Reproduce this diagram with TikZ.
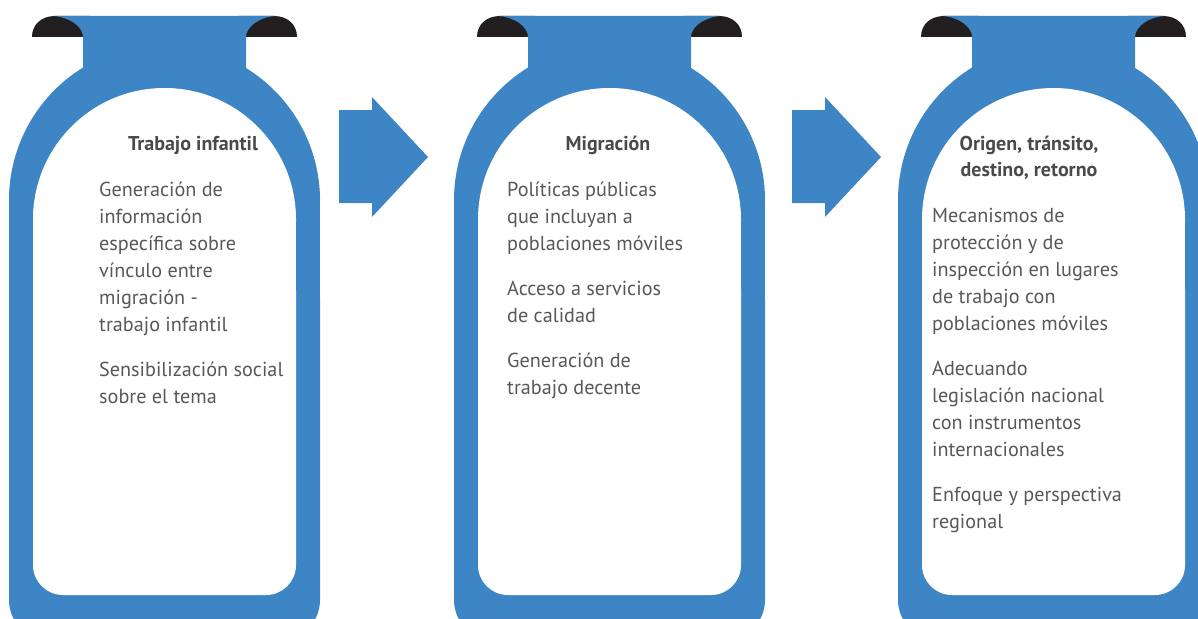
\documentclass[tikz,border=0pt]{standalone}
\usepackage{fontspec}
\setmainfont{PT Sans}
\definecolor{bottleblue}{HTML}{3E85C5}
\definecolor{capblack}{HTML}{231F20}
\definecolor{bodygray}{HTML}{585858}
\definecolor{headgray}{HTML}{4A4A4A}
\begin{document}
\begin{tikzpicture}[x=1pt, y=-1pt,
  bodytext/.style={anchor=north west, inner sep=0pt, align=left, text=bodygray,
    font=\fontsize{20.2}{27}\selectfont},
  headtext/.style={anchor=north, inner sep=0pt, align=center, text=headgray,
    font=\bfseries\fontsize{20}{26}\selectfont}]
  \useasboundingbox (0,0) rectangle (1198,618);
  \clip (0,0) rectangle (1198,618);

  % Bottles
  \foreach \dx in {0,445,889} {
    \begin{scope}[xshift=\dx pt]
      % dark caps at the neck
      \fill[capblack] (32,37) .. controls (32,24) and (42,16) .. (55,16) -- (90,16) -- (90,37) -- cycle;
      \fill[capblack] (297,37) .. controls (297,24) and (287,16) .. (274,16) -- (239,16) -- (239,37) -- cycle;
      % neck and dome
      \fill[bottleblue] (9,200) arc[start angle=180, end angle=238.4, radius=155.5] -- (83,37)
        .. controls (83,27) and (70,17) .. (53,16) -- (276,16)
        .. controls (259,17) and (246,27) .. (246,37) -- (246,68)
        arc[start angle=-58.4, end angle=0, radius=155.5] -- cycle;
      % lower part
      \fill[bottleblue] (9,199) rectangle (320,300);
      \fill[bottleblue, rounded corners=40pt] (9,260) rectangle (320,640);
      % white inside
      \fill[white] (33,219.5) arc[start angle=180, end angle=360, radius=131.5] -- (296,221) -- (33,221) -- cycle;
      \fill[white] (33,219) rectangle (296,300);
      \fill[white, rounded corners=30pt] (33,260) rectangle (296,595);
    \end{scope}
  }

  % Arrows
  \foreach \ax in {339,792} {
    \fill[bottleblue] (\ax,110) -- (\ax+33,110) -- (\ax+33,97) -- (\ax+89,157)
      -- (\ax+33,217) -- (\ax+33,203) -- (\ax,203) -- cycle;
  }

  % Titles
  \node[headtext] (head1) at (193,131.8) {\strut Trabajo infantil};
  \node[headtext] (head2) at (608,131.8) {\strut Migración};
  \node[headtext] (head3) at (1029,131.8) {\strut Origen, tránsito,\\destino, retorno};

  % Texts
  \node[bodytext] (body1) at (99,177.1) {\strut Generación de\\información\\específica sobre\\vínculo entre\\migración -\\trabajo infantil\\[18pt]Sensibilización social\\sobre el tema};
  \node[bodytext] (body2) at (507,177.1) {\strut Políticas públicas\\que incluyan a\\poblaciones móviles\\[18pt]Acceso a servicios\\de calidad\\[18pt]Generación de\\trabajo decente};
  \node[bodytext] (body3) at (932,203.1) {\strut Mecanismos de\\protección y de\\inspección en lugares\\de trabajo con\\poblaciones móviles\\[18pt]Adecuando\\legislación nacional\\con instrumentos\\internacionales\\[18pt]Enfoque y perspectiva\\regional};

\end{tikzpicture}
\end{document}
